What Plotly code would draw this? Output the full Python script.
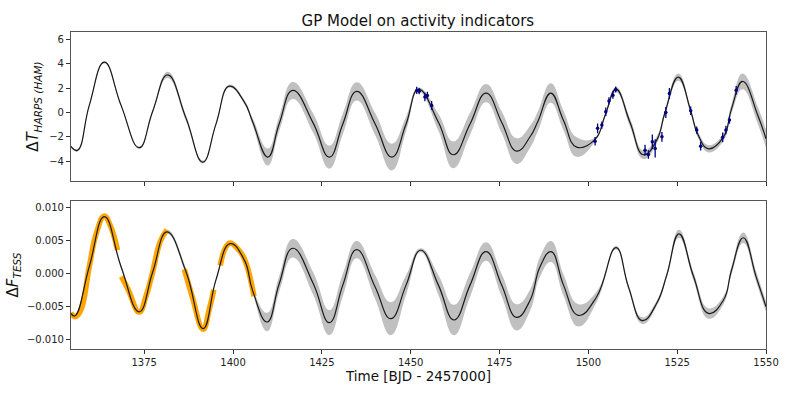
import plotly.graph_objects as go
from plotly.subplots import make_subplots

# GP model on HARPS temperature indicator (top panel)
t_harps_model = [1354.4, 1356.2, 1359.55, 1363.8, 1368.5, 1373.6, 1377.4, 1381.6, 1386.8,
                 1391.5, 1395.2, 1398.95, 1403.2, 1405.5, 1409.8, 1413.0, 1416.8, 1422.6,
                 1427.1, 1430.9, 1434.8, 1440.0, 1444.7, 1448.7, 1452.2, 1457.8, 1462.0,
                 1466.7, 1471.2, 1475.6, 1479.8, 1483.6, 1485.9, 1489.4, 1493.0, 1496.7,
                 1501.9, 1504.7, 1507.8, 1511.7, 1515.5, 1519.2, 1521.6, 1525.3, 1528.8,
                 1530.8, 1533.8, 1538.0, 1540.3, 1543.4, 1547.7, 1550.0]
harps_mean = [-2.8, -3.12, 0.58, 4.13, 0.58, -2.9, 0.1, 3.09, -0.49,
              -4.08, -0.96, 2.16, 0.85, -0.74, -3.67, -0.93, 1.81, -0.9,
              -3.67, -0.95, 1.73, -0.95, -3.67, -0.95, 1.89, -0.8, -3.48,
              -0.95, 1.59, -0.8, -3.18, -2.0, -0.66, 1.59, -0.66, -2.85,
              -2.22, -0.25, 1.89, -0.8, -3.48, -2.3, 0.03, 2.90, 0.13,
              -1.8, -2.99, -2.03, 0.31, 2.55, -0.25, -2.17]
harps_sigma = [0.1, 0.1, 0.1, 0.1, 0.1, 0.1, 0.12, 0.25, 0.25,
               0.12, 0.1, 0.12, 0.15, 0.3, 0.7, 0.6, 0.7, 0.8,
               0.95, 0.85, 0.75, 0.9, 1.1, 0.6, 0.15, 0.7, 1.1,
               0.9, 0.75, 0.9, 1.05, 0.9, 0.8, 0.8, 0.8, 0.8,
               0.15, 0.15, 0.2, 0.35, 0.35, 0.3, 0.25, 0.3, 0.25,
               0.25, 0.3, 0.3, 0.4, 0.65, 0.7, 0.75]

# HARPS observations
t_harps = [1451.7, 1452.4, 1454.0, 1454.7, 1455.9,
           1501.9, 1502.6, 1503.8, 1504.9, 1505.8, 1506.9, 1507.7,
           1515.95, 1516.9, 1518.0, 1518.8, 1520.7, 1521.8, 1522.8,
           1528.8, 1530.5, 1531.6, 1537.8, 1538.7, 1539.7, 1541.6]
harps_obs = [1.81, 1.75, 1.26, 1.40, 0.58,
             -2.36, -1.31, -1.04, 0.05, 0.95, 1.42, 1.89,
             -3.1, -3.45, -2.41, -2.96, -2.0, 0.0, 1.56,
             0.13, -1.45, -2.77, -2.05, -1.45, -0.63, 1.83]
harps_err = [0.3, 0.25, 0.35, 0.3, 0.35,
             0.35, 0.4, 0.3, 0.35, 0.3, 0.3, 0.25,
             0.45, 0.35, 0.6, 0.75, 0.4, 0.45, 0.45,
             0.35, 0.3, 0.35, 0.4, 0.35, 0.3, 0.35]

# GP model on TESS photometry (bottom panel)
t_tess_model = [1354.4, 1355.5, 1359.55, 1363.8, 1368.5, 1373.6, 1377.4, 1381.4, 1386.8,
                1391.6, 1395.2, 1399.2, 1403.2, 1405.5, 1409.6, 1413.0, 1416.8, 1422.6,
                1427.1, 1430.9, 1434.8, 1440.0, 1444.4, 1448.7, 1452.8, 1457.8, 1462.2,
                1466.7, 1471.2, 1475.6, 1479.8, 1483.6, 1486.4, 1489.5, 1493.0, 1497.2,
                1502.3, 1507.8, 1511.3, 1515.2, 1519.2, 1522.1, 1525.5, 1529.6, 1533.8,
                1538.0, 1540.3, 1543.6, 1547.2, 1550.0]
tess_mean = [-0.0061, -0.0065, 0.001, 0.0086, 0.001, -0.00585, 0.0002, 0.0063, 0.0002,
             -0.0084, -0.001, 0.0045, 0.002, -0.0026, -0.0074, -0.0016, 0.0038, -0.0016,
             -0.0075, -0.0018, 0.0036, -0.0021, -0.0069, -0.0018, 0.0035, -0.0018, -0.0071,
             -0.0018, 0.0033, -0.0018, -0.0067, -0.0041, 0.001, 0.0033, -0.0018, -0.0064,
             -0.0036, 0.0039, -0.0021, -0.0072, -0.0046, -0.0002, 0.0060, -0.0005, -0.0061,
             -0.0041, 0.0005, 0.0054, -0.0005, -0.0051]
tess_sigma = [0.0002, 0.0002, 0.0002, 0.0002, 0.0003, 0.0002, 0.0002, 0.0003, 0.0005,
              0.0002, 0.0002, 0.0002, 0.0002, 0.0003, 0.0014, 0.0012, 0.0014, 0.0017,
              0.0019, 0.0017, 0.0013, 0.0018, 0.0025, 0.0015, 0.0003, 0.0015, 0.0023,
              0.0018, 0.0014, 0.0017, 0.002, 0.0016, 0.0015, 0.0016, 0.0016, 0.0017,
              0.0008, 0.0003, 0.0004, 0.0005, 0.0004, 0.0004, 0.0006, 0.0006, 0.0008,
              0.0006, 0.0006, 0.0008, 0.0008, 0.0008]

# TESS light curve segments
tess_segments = [
    ([1354.4, 1355.5, 1357.0, 1359.55, 1361.5, 1363.8, 1365.5, 1367.5],
     [-0.0060, -0.0066, -0.0058, 0.0010, 0.0060, 0.0087, 0.0072, 0.0035]),
    ([1368.6, 1370.5, 1373.6, 1375.5, 1377.4, 1379.5, 1381.4],
     [-0.0005, -0.0025, -0.0059, -0.0035, 0.0002, 0.0048, 0.0066]),
    ([1386.3, 1388.5, 1391.6, 1393.3, 1394.6],
     [0.0006, -0.0035, -0.0085, -0.0055, -0.0025]),
    ([1396.4, 1398.0, 1399.2, 1401.5, 1403.2, 1405.9],
     [0.0012, 0.0040, 0.0046, 0.0036, 0.0022, -0.0035]),
]

x_ticks = [1375, 1400, 1425, 1450, 1475, 1500, 1525, 1550]

fig = make_subplots(rows=2, cols=1, shared_xaxes=True)

SPLINE = dict(shape="spline", smoothing=1.3)


def add_band(t, mean, sigma, row):
    upper = [m + s for m, s in zip(mean, sigma)]
    lower = [m - s for m, s in zip(mean, sigma)]
    fig.add_trace(go.Scatter(x=t, y=upper, mode="lines", line=dict(width=0, **SPLINE),
                             showlegend=False, hoverinfo="skip"), row=row, col=1)
    fig.add_trace(go.Scatter(x=t, y=lower, mode="lines", line=dict(width=0, **SPLINE),
                             fill="tonexty", fillcolor="#c0c0c0",
                             showlegend=False, hoverinfo="skip"), row=row, col=1)


add_band(t_harps_model, harps_mean, harps_sigma, 1)
fig.add_trace(go.Scatter(x=t_harps_model, y=harps_mean, mode="lines",
                         line=dict(color="#1a1a1a", width=1.2, **SPLINE),
                         showlegend=False), row=1, col=1)
fig.add_trace(go.Scatter(x=t_harps, y=harps_obs, mode="markers",
                         marker=dict(color="#000080", size=3.5, symbol="circle"),
                         error_y=dict(type="data", array=harps_err, color="#000080",
                                      thickness=1.3, width=0),
                         showlegend=False), row=1, col=1)

add_band(t_tess_model, tess_mean, tess_sigma, 2)
for seg_t, seg_f in tess_segments:
    fig.add_trace(go.Scatter(x=seg_t, y=seg_f, mode="lines",
                             line=dict(color="#FFA500", width=5.5, **SPLINE),
                             showlegend=False), row=2, col=1)
fig.add_trace(go.Scatter(x=t_tess_model, y=tess_mean, mode="lines",
                         line=dict(color="#1a1a1a", width=1.2, **SPLINE),
                         showlegend=False), row=2, col=1)

axis_style = dict(showline=True, mirror=True, linecolor="#555555", linewidth=1,
                  ticks="outside", ticklen=4, tickcolor="#333333", showgrid=False,
                  zeroline=False, automargin=False, tickfont=dict(size=10, color="#222222"))

fig.update_xaxes(range=[1354.4, 1550], tickvals=x_ticks, domain=[0.0895, 0.966], **axis_style)
fig.update_xaxes(showticklabels=False, row=1, col=1)
fig.update_yaxes(**axis_style)
fig.update_yaxes(range=[-5.64, 6.6], tickvals=[-4, -2, 0, 2, 4, 6], domain=[0.544, 0.919],
                 title=dict(text="Δ<i>T</i><sub><i>HARPS (HAM)</i></sub>",
                            font=dict(size=15, color="#111111"), standoff=6),
                 row=1, col=1)
fig.update_yaxes(range=[-0.0115, 0.0110], tickvals=[-0.010, -0.005, 0.0, 0.005, 0.010],
                 tickformat=".3f", domain=[0.121, 0.494],
                 title=dict(text="Δ<i>F</i><sub><i>TESS</i></sub>",
                            font=dict(size=15, color="#111111"), standoff=4),
                 row=2, col=1)

# x-axis label placed as a paper annotation so it sits just under the tick labels
fig.add_annotation(text="Time [BJD - 2457000]", xref="paper", yref="paper",
                   x=0.527, y=0.054, xanchor="center", yanchor="middle",
                   showarrow=False, font=dict(size=13.5, color="#111111"))

fig.update_layout(
    width=793, height=397,
    margin=dict(l=0, r=0, t=0, b=0),
    paper_bgcolor="white", plot_bgcolor="white",
    font=dict(family="DejaVu Sans"),
    title=dict(text="GP Model on activity indicators", x=0.527, xanchor="center",
               y=0.947, yanchor="middle", automargin=False,
               font=dict(size=15, color="#111111")),
)

# drop the browser's default body margin so the figure sits at the page origin
fig.write_html("out.html", config={"displayModeBar": False},
               post_script="document.body.style.margin='0';")
